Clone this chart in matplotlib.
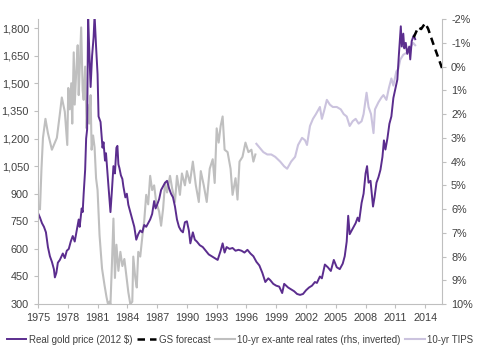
import matplotlib
matplotlib.use("Agg")
import matplotlib.pyplot as plt
from matplotlib.ticker import FuncFormatter

# Real gold price (2012 $)
gold_years = [1975.0, 1975.2, 1975.4, 1975.6, 1975.8, 1976.0, 1976.2, 1976.4, 1976.6, 1976.7, 1976.85,
              1977.0, 1977.2, 1977.5, 1977.7, 1977.9, 1978.1, 1978.3, 1978.5, 1978.7, 1978.9, 1979.1,
              1979.2, 1979.4, 1979.5, 1979.6, 1979.75, 1979.85, 1979.95, 1980.05, 1980.15, 1980.3,
              1980.45, 1980.6, 1980.7, 1980.85, 1981.0, 1981.1, 1981.3, 1981.5, 1981.6, 1981.75,
              1981.85, 1982.0, 1982.1, 1982.3, 1982.45, 1982.6, 1982.75, 1982.9, 1983.0, 1983.1,
              1983.2, 1983.35, 1983.5, 1983.6, 1983.8, 1983.95, 1984.1, 1984.3, 1984.5, 1984.7,
              1984.9, 1985.1, 1985.3, 1985.5, 1985.7, 1985.9, 1986.1, 1986.3, 1986.5, 1986.7,
              1986.85, 1987.0, 1987.2, 1987.4, 1987.6, 1987.8, 1988.0, 1988.2, 1988.4, 1988.6,
              1988.8, 1989.0, 1989.2, 1989.4, 1989.6, 1989.8, 1990.0, 1990.2, 1990.35, 1990.6,
              1990.8, 1991.0, 1991.3, 1991.6, 1991.9, 1992.2, 1992.5, 1992.8, 1993.1, 1993.4,
              1993.6, 1993.8, 1994.0, 1994.3, 1994.6, 1994.9, 1995.2, 1995.5, 1995.8, 1996.1,
              1996.4, 1996.7, 1997.0, 1997.3, 1997.6, 1997.9, 1998.2, 1998.4, 1998.7, 1999.0,
              1999.3, 1999.6, 1999.8, 2000.0, 2000.2, 2000.5, 2000.8, 2001.1, 2001.4, 2001.7,
              2002.0, 2002.3, 2002.6, 2002.9, 2003.1, 2003.4, 2003.6, 2003.9, 2004.2, 2004.5,
              2004.8, 2005.1, 2005.4, 2005.7, 2005.9, 2006.1, 2006.25, 2006.4, 2006.6, 2006.8,
              2007.0, 2007.2, 2007.35, 2007.6, 2007.8, 2008.0, 2008.15, 2008.3, 2008.5, 2008.75,
              2008.9, 2009.1, 2009.3, 2009.5, 2009.7, 2009.85, 2010.0, 2010.2, 2010.4, 2010.6,
              2010.8, 2011.0, 2011.2, 2011.35, 2011.55, 2011.65, 2011.8, 2011.9, 2012.05, 2012.2,
              2012.4, 2012.5, 2012.65, 2012.85, 2013.0]
gold_price = [795, 770, 740, 720, 690, 610, 560, 530, 490, 445, 470,
              525, 540, 575, 550, 590, 600, 640, 670, 640, 700, 760,
              720, 820, 800, 900, 1030, 1200, 1250, 1870, 1700, 1480,
              1650, 1750, 1870, 1700, 1550, 1320, 1290, 1150, 1180, 1080,
              1120, 1010, 940, 800, 920, 1050, 1010, 1150, 1160, 1060,
              1040, 1000, 980, 940, 880, 900, 840, 800, 760, 720,
              650, 680, 700, 690, 730, 720, 740, 760, 790, 860,
              820, 840, 870, 920, 940, 960, 970, 930, 900, 880,
              830, 760, 720, 700, 690, 745, 750, 700, 630, 690,
              650, 640, 620, 610, 590, 570, 560, 550, 540, 590,
              630, 580, 610, 600, 605, 590, 595, 590, 580, 595,
              575, 560, 530, 510, 470, 420, 440, 430, 410, 400,
              395, 360, 410, 400, 390, 380, 370, 355, 350, 355,
              375, 390, 400, 420, 415, 450, 440, 515, 500, 480,
              540, 500, 490, 520, 560, 640, 780, 680, 700, 720,
              740, 770, 750, 850, 900, 1010, 1050, 960, 970, 830,
              880, 960, 990, 1030, 1100, 1190, 1140, 1200, 1280, 1320,
              1420, 1470, 1520, 1650, 1810, 1700, 1770, 1690, 1720, 1660,
              1700, 1630, 1730, 1760, 1740]

# GS forecast
fc_years = [2012.85, 2013.1, 2013.3, 2013.6, 2014.0, 2014.3, 2014.8, 2015.3, 2015.7]
fc_price = [1750, 1780, 1805, 1795, 1827, 1797, 1718, 1643, 1583]

# 10-yr ex-ante real rates (rhs, inverted), %
rr_years = [1975.2, 1975.35, 1975.5, 1975.75, 1976.0, 1976.4, 1976.7, 1976.9, 1977.2, 1977.4,
            1977.7, 1977.95, 1978.05, 1978.2, 1978.35, 1978.45, 1978.6, 1978.7, 1978.85, 1979.0,
            1979.1, 1979.2, 1979.35, 1979.5, 1979.6, 1979.75, 1979.9, 1980.0, 1980.15, 1980.3,
            1980.4, 1980.55, 1980.7, 1980.85, 1981.0, 1981.2, 1981.45, 1981.7, 1981.9, 1982.05,
            1982.2, 1982.3, 1982.45, 1982.6, 1982.75, 1982.9, 1983.1, 1983.3, 1983.5, 1983.7,
            1983.9, 1984.1, 1984.3, 1984.5, 1984.6, 1984.8, 1984.95, 1985.1, 1985.3, 1985.5,
            1985.7, 1985.9, 1986.1, 1986.3, 1986.5, 1986.7, 1986.9, 1987.2, 1987.4, 1987.6,
            1987.8, 1988.0, 1988.3, 1988.5, 1988.8, 1989.0, 1989.3, 1989.5, 1989.8, 1990.0,
            1990.3, 1990.6, 1990.9, 1991.2, 1991.4, 1991.7, 1992.0, 1992.3, 1992.6, 1992.8,
            1993.0, 1993.2, 1993.4, 1993.6, 1993.8, 1994.1, 1994.4, 1994.6, 1994.9, 1995.1,
            1995.3, 1995.6, 1995.9, 1996.2, 1996.5, 1996.7, 1996.9]
rr_rate = [6.0, 4.3, 3.0, 2.2, 2.8, 3.5, 3.2, 3.0, 2.0, 1.3,
           1.9, 3.3, 0.9, 1.8, 0.7, 2.4, -0.6, 1.6, 0.2, -0.9,
           1.2, 0.1, -1.65, 1.0, 1.4, 0.0, 2.6, 1.6, 2.4, 1.2,
           3.5, 2.9, 3.4, 4.7, 5.2, 7.1, 8.5, 9.2, 9.7, 10.0,
           9.9, 10.0, 8.3, 6.4, 8.9, 7.5, 8.6, 7.8, 8.4, 8.1,
           8.8, 9.5, 10.0, 9.9, 8.0, 8.9, 9.3, 7.8, 8.0, 7.2,
           6.5, 5.4, 5.8, 4.6, 5.2, 5.0, 5.7, 6.1, 6.7, 6.0,
           4.9, 5.3, 4.6, 5.1, 5.7, 4.6, 5.4, 4.5, 5.0, 4.4,
           4.9, 4.0, 5.0, 5.7, 4.4, 5.0, 5.7, 4.3, 3.9, 4.9,
           2.6, 3.2, 2.5, 2.1, 3.5, 3.6, 4.3, 5.4, 4.7, 5.6,
           4.0, 3.8, 3.2, 3.6, 3.5, 4.0, 3.7]

# 10-yr TIPS, %
tips_years = [1997.0, 1997.3, 1997.7, 1998.1, 1998.5, 1998.9, 1999.4, 1999.8, 2000.1, 2000.5,
              2000.9, 2001.2, 2001.6, 2001.9, 2002.1, 2002.4, 2002.7, 2003.0, 2003.4, 2003.6,
              2003.8, 2004.1, 2004.4, 2004.7, 2005.1, 2005.5, 2005.8, 2006.1, 2006.4, 2006.7,
              2007.0, 2007.3, 2007.6, 2007.8, 2008.1, 2008.3, 2008.55, 2008.8, 2008.95, 2009.3,
              2009.6, 2009.8, 2010.1, 2010.35, 2010.6, 2010.8, 2011.1, 2011.3, 2011.5, 2011.8,
              2012.2, 2012.5, 2012.8, 2013.0]
tips_rate = [3.25, 3.4, 3.6, 3.7, 3.7, 3.8, 4.0, 4.2, 4.3, 4.0,
             3.8, 3.3, 3.0, 3.1, 3.3, 2.5, 2.2, 2.0, 1.7, 2.2,
             1.9, 1.4, 1.6, 1.7, 1.7, 1.8, 2.0, 2.1, 2.5, 2.3,
             2.2, 2.4, 2.3, 2.0, 1.1, 1.7, 2.0, 2.8, 1.8, 1.5,
             1.3, 1.2, 1.4, 0.9, 0.5, 0.8, 0.2, 0.1, -0.3, -0.5,
             -0.6, -0.8, -1.0, -0.9]

left_ticks = [300, 450, 600, 750, 900, 1050, 1200, 1350, 1500, 1650, 1800]
right_ticks = [-2, -1, 0, 1, 2, 3, 4, 5, 6, 7, 8, 9, 10]
x_ticks = list(range(1975, 2015, 3))

plt.rcParams['font.family'] = ['Liberation Sans', 'DejaVu Sans']
txt = '#404040'
spine_c = '#bfbfbf'

fig = plt.figure(figsize=(5.0, 3.54), dpi=100)
ax = fig.add_axes([0.076, 0.141, 0.808, 0.805])
ax2 = ax.twinx()
ax.set_zorder(ax2.get_zorder() + 1)
ax.patch.set_visible(False)

l3, = ax2.plot(rr_years, rr_rate, color='#bfbfbf', lw=1.5)
l4, = ax2.plot(tips_years, tips_rate, color='#cbc3de', lw=1.5)
l1, = ax.plot(gold_years, gold_price, color='#5b2d8e', lw=1.4)
l2, = ax.plot(fc_years, fc_price, color='black', lw=1.8, ls=(0, (3, 2)))

ax.set_xlim(1975, 2015.7)
ax.set_ylim(300, 1849)
ax2.set_ylim(10, -2)

ax.set_xticks(x_ticks)
ax.set_yticks(left_ticks)
ax2.set_yticks(right_ticks)
ax.yaxis.set_major_formatter(FuncFormatter(lambda v, p: f"{int(v):,}"))
ax2.yaxis.set_major_formatter(FuncFormatter(lambda v, p: f"{int(v)}%"))

for a in (ax, ax2):
    for s in a.spines.values():
        s.set_color(spine_c)
        s.set_linewidth(0.8)
    a.spines['top'].set_visible(False)
    a.tick_params(colors=spine_c, labelcolor=txt, labelsize=7.8, length=3, width=0.8)
ax.spines['right'].set_visible(False)
ax2.spines['left'].set_visible(False)
ax2.spines['bottom'].set_visible(False)

fig.legend([l1, l2, l3, l4],
           ['Real gold price (2012 $)', 'GS forecast', '10-yr ex-ante real rates (rhs, inverted)', '10-yr TIPS'],
           loc='center', bbox_to_anchor=(0.48, 0.04), ncol=4, frameon=False,
           fontsize=7.0, handlelength=2.0, handletextpad=0.25, columnspacing=0.5, labelcolor=txt)

fig.savefig('out.png', dpi=100)
